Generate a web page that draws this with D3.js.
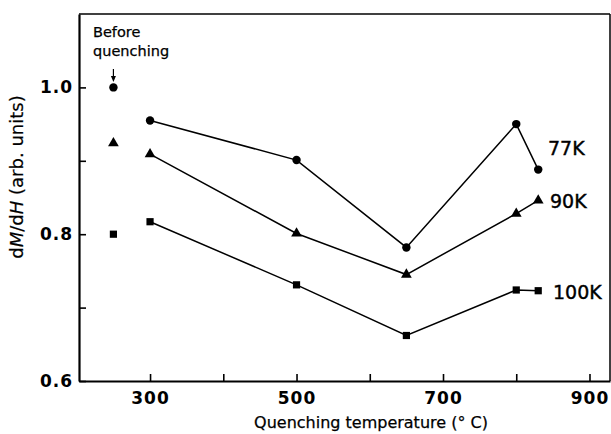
<!DOCTYPE html>
<html><head><meta charset="utf-8">
<script src="https://cdn.jsdelivr.net/npm/d3@7"></script>
<style>body{margin:0;background:#fff}svg{display:block}</style>
</head><body>
<svg id="c" width="611" height="434"></svg>
<script>
const temps = [300, 500, 650, 800, 830];
const beforeTemp = 250;
const series77 = [0.955, 0.901, 0.782, 0.950, 0.888];
const series90 = [0.909, 0.801, 0.745, 0.828, 0.846];
const series100 = [0.817, 0.731, 0.662, 0.724, 0.723];
const before77 = 1.0, before90 = 0.924, before100 = 0.800;
const seriesNames = ["77K", "90K", "100K"];
const xTicks = [300, 400, 500, 600, 700, 800, 900];
const xTickLabels = [300, 500, 700, 900];
const yTicks = [0.6, 0.7, 0.8, 0.9, 1.0];
const yTickLabels = [0.6, 0.8, 1.0];

const svg = d3.select("#c");
const L = 79, R = 610, T = 14, B = 381;
const x = d3.scaleLinear().domain([203, 928]).range([L, R]);
const y = d3.scaleLinear().domain([0.6, 1.1]).range([B, T]);

// frame top/right
svg.append("line").attr("x1", L).attr("x2", R).attr("y1", T).attr("y2", T).attr("stroke", "#000").attr("stroke-width", 1.5);
svg.append("line").attr("x1", R).attr("x2", R).attr("y1", T).attr("y2", B).attr("stroke", "#000").attr("stroke-width", 1.5);

const xa = svg.append("g").attr("transform", `translate(0,${B})`)
  .call(d3.axisBottom(x).tickValues(xTicks).tickSizeInner(-7).tickSizeOuter(0)
    .tickFormat(d => xTickLabels.includes(d) ? d : ""));
xa.select(".domain").attr("stroke-width", 2.2);
xa.selectAll(".tick line").attr("stroke-width", 1.6);
xa.selectAll(".tick text").attr("y", 11).attr("dy", "0.71em")
  .attr("font-family", "DejaVu Sans").attr("font-weight", "bold").attr("font-size", 17).attr("letter-spacing", 1).attr("fill", "#000");

const ya = svg.append("g").attr("transform", `translate(${L},0)`)
  .call(d3.axisLeft(y).tickValues(yTicks).tickSizeInner(-7).tickSizeOuter(0)
    .tickFormat(d => yTickLabels.some(v => Math.abs(v - d) < 1e-9) ? d3.format(".1f")(d) : ""));
ya.select(".domain").attr("stroke-width", 2.2);
ya.selectAll(".tick line").attr("stroke-width", 1.6);
ya.selectAll(".tick text").attr("x", -6)
  .attr("font-family", "DejaVu Sans").attr("font-weight", "bold").attr("font-size", 17).attr("letter-spacing", 1).attr("fill", "#000");

const all = [
  {vals: series77, before: before77, sym: d3.symbolCircle, size: 56},
  {vals: series90, before: before90, sym: d3.symbolTriangle, size: 50},
  {vals: series100, before: before100, sym: d3.symbolSquare, size: 52}
];
const line = d3.line().x(d => x(d[0])).y(d => y(d[1]));
all.forEach(s => {
  const pts = temps.map((t, i) => [t, s.vals[i]]);
  svg.append("path").attr("d", line(pts)).attr("fill", "none").attr("stroke", "#000").attr("stroke-width", 1.5);
  const sym = d3.symbol().type(s.sym).size(s.size);
  pts.concat([[beforeTemp, s.before]]).forEach(p => {
    svg.append("path").attr("d", sym()).attr("transform", `translate(${x(p[0])},${y(p[1])})`).attr("fill", "#000");
  });
});

// series labels
const labPos = [[548, 155], [550, 208], [553, 299]];
seriesNames.forEach((n, i) => {
  svg.append("text").attr("x", labPos[i][0]).attr("y", labPos[i][1]).text(n)
    .attr("font-family", "DejaVu Sans").attr("font-size", 19).attr("fill", "#000")
    .attr("stroke", "#000").attr("stroke-width", 0.4);
});

// before quenching annotation (two separate lines)
[["Before", 37], ["quenching", 56]].forEach(([t, yy]) => {
  svg.append("text").attr("x", 93).attr("y", yy).text(t)
    .attr("font-family", "DejaVu Sans").attr("font-size", 14.5).attr("fill", "#000")
    .attr("stroke", "#000").attr("stroke-width", 0.25);
});
const ax = x(beforeTemp);
svg.append("line").attr("x1", ax).attr("x2", ax).attr("y1", 69).attr("y2", 79).attr("stroke", "#000").attr("stroke-width", 1.2);
svg.append("path").attr("d", `M${ax-2.5},76 L${ax},82 L${ax+2.5},76 Z`).attr("fill", "#000");

// axis titles
svg.append("text").attr("x", 371).attr("y", 428).attr("text-anchor", "middle")
  .attr("font-family", "DejaVu Sans").attr("font-size", 16).attr("fill", "#000")
  .attr("stroke", "#000").attr("stroke-width", 0.25)
  .text("Quenching temperature (° C)");
const yt = svg.append("text").attr("transform", "translate(23,177) rotate(-90)").attr("text-anchor", "middle")
  .attr("font-family", "DejaVu Sans").attr("font-size", 18).attr("fill", "#000")
  .attr("stroke", "#000").attr("stroke-width", 0.2);
yt.append("tspan").text("d");
yt.append("tspan").attr("font-style", "italic").text("M");
yt.append("tspan").text("/d");
yt.append("tspan").attr("font-style", "italic").text("H");
yt.append("tspan").text(" (arb. units)");
</script>
</body></html>
